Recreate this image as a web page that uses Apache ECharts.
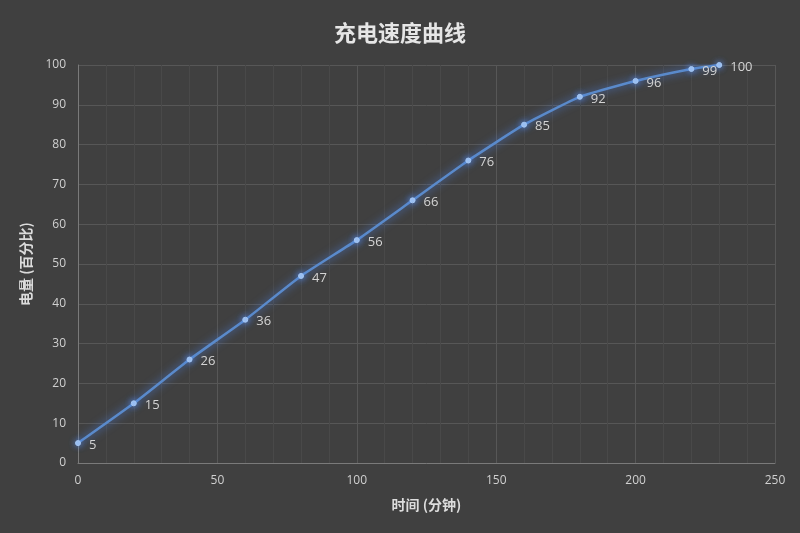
<!DOCTYPE html>
<html><head><meta charset="utf-8">
<script src="https://cdn.jsdelivr.net/npm/echarts@6/dist/echarts.min.js"></script>
<style>html,body{margin:0;padding:0;background:#404040;}#c{width:800px;height:533px;}</style>
</head><body><div id="c"></div>
<script>
const minutes = [0, 20, 40, 60, 80, 100, 120, 140, 160, 180, 200, 220, 230];
const battery = [5, 15, 26, 36, 47, 56, 66, 76, 85, 92, 96, 99, 100];
const titleText = '充电速度曲线';
const xName = '时间 (分钟)';
const yName = '电量 (百分比)';

const chart = echarts.init(document.getElementById('c'));
const font = '"Noto Sans CJK SC", "Noto Sans", sans-serif';
chart.setOption({
  backgroundColor: '#404040',
  animation: false,
  title: {
    text: titleText, left: 'center', top: 17,
    textStyle: {color: '#e6e6e6', fontSize: 22, fontWeight: 'bold', fontFamily: font}
  },
  grid: {left: 78, right: 25, top: 65, bottom: 70},
  xAxis: {
    type: 'value', min: 0, max: 250, interval: 50,
    name: xName, nameLocation: 'middle', nameGap: 35,
    nameTextStyle: {color: '#dcdcdc', fontSize: 14, fontWeight: 'bold', fontFamily: font},
    axisLine: {show: true, lineStyle: {color: '#7a7a7a'}},
    axisTick: {show: false},
    axisLabel: {color: '#d0d0d0', fontSize: 12, margin: 12, fontFamily: '"Open Sans", sans-serif'},
    splitLine: {show: true, lineStyle: {color: '#575757', width: 1}},
    minorTick: {show: false, splitNumber: 5},
    minorSplitLine: {show: true, lineStyle: {color: '#494949', width: 1}}
  },
  yAxis: {
    type: 'value', min: 0, max: 100, interval: 10,
    name: yName, nameLocation: 'middle', nameGap: 45, nameRotate: 90,
    nameTextStyle: {color: '#dcdcdc', fontSize: 14, fontWeight: 'bold', fontFamily: font},
    axisLine: {show: true, lineStyle: {color: '#7a7a7a'}},
    axisTick: {show: false},
    axisLabel: {color: '#d0d0d0', fontSize: 12, margin: 12, fontFamily: '"Open Sans", sans-serif'},
    splitLine: {show: true, lineStyle: {color: '#575757', width: 1}}
  },
  series: [{
    type: 'line',
    data: minutes.map((m, i) => [m, battery[i]]),
    smooth: 0.15,
    symbol: 'circle', symbolSize: 5,
    itemStyle: {color: '#a4c6f2', borderColor: '#a4c6f2', shadowColor: 'rgba(90,150,255,0.9)', shadowBlur: 6},
    lineStyle: {color: '#5a8acb', width: 2.5, shadowColor: 'rgba(80,140,255,0.8)', shadowBlur: 8},
    label: {show: true, position: 'right', distance: 8, offset: [0, 2], color: '#d4d4d4', fontSize: 13, fontFamily: '"Open Sans", sans-serif'}
  }]
});
</script></body></html>
